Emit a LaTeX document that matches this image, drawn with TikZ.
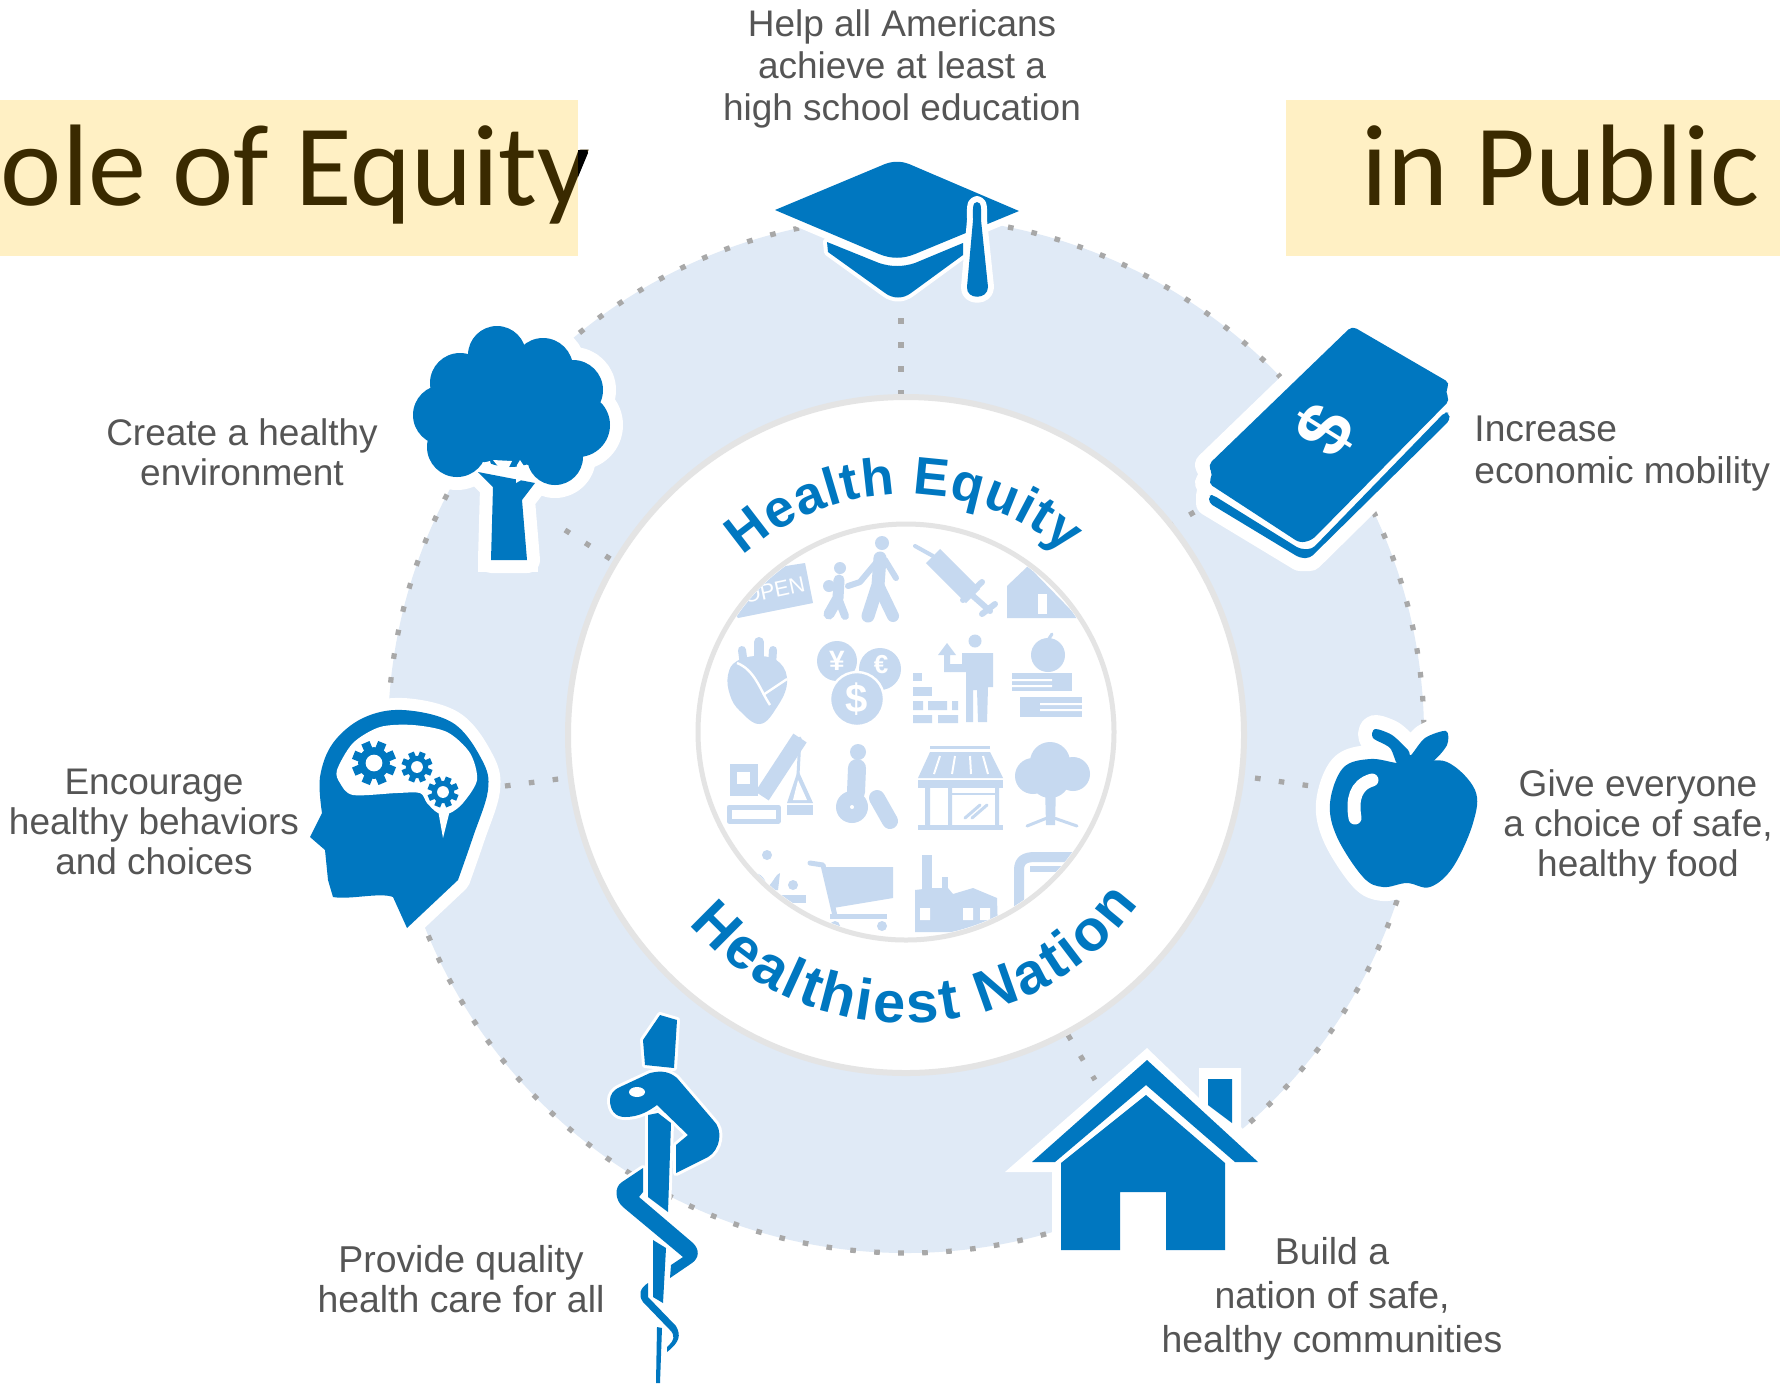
\documentclass[tikz,border=0pt]{standalone}
\usepackage{fontspec}
\setmainfont{Liberation Sans}
\newfontfamily\titlefont{Carlito}
\usetikzlibrary{decorations.text}
\definecolor{iconblue}{HTML}{0077C0}
\definecolor{ringblue}{HTML}{E0EAF6}
\definecolor{pale}{HTML}{C6D9F0}
\definecolor{greyring}{HTML}{E4E4E4}
\definecolor{dotgrey}{HTML}{A8A8A8}
\definecolor{labelgrey}{HTML}{555555}
\definecolor{titlebg}{HTML}{FFF0C4}
\definecolor{titletext}{HTML}{3A2A00}
\tikzset{
  halo/.style={draw=white,fill=white,line width=#1,line join=round},
  halo/.default=13pt,
  ic/.style={fill=iconblue},
  li/.style={fill=pale},
  lis/.style={draw=pale,line width=#1,line cap=round,line join=round},
  lis/.default=3pt,
  wh/.style={fill=white},
  dotline/.style={draw=dotgrey,line width=2.6pt,dash pattern=on 2.8pt off 9.2pt},
  lab/.style={text=labelgrey,font=\fontsize{18.5}{20}\selectfont,align=center,inner sep=0pt},
  ttl/.style={text=titletext,font=\titlefont\fontsize{58}{70}\selectfont,inner sep=0pt,anchor=base west},
}
\newcommand\iconGear[3]{%
  \foreach \a in {0,45,...,315}{\draw[iconblue,line width=#3*0.2pt] (#1,#2) -- ++(\a+22:#3);}
  \fill[iconblue] (#1,#2) circle[radius=#3*0.72];
  \fill[white] (#1,#2) circle[radius=#3*0.38];
}
\def\treecrown{(497,355) circle[radius=29] (543,368) circle[radius=30] (573,390) circle[radius=30] (578,425) circle[radius=32] (555,457) circle[radius=28] (457,447) circle[radius=30] (443,415) circle[radius=30] (460,383) circle[radius=30] (510,410) circle[radius=57] (490,438) circle[radius=25] (530,440) circle[radius=25]}
\def\treetrunk{(491,560) -- (527,560) -- (522,500) -- (535,483) -- (478,472) -- (493,487) -- cycle}
\def\moneyA{(1352,326) -- (1450,383) -- (1445,392) -- (1450,400) -- (1312,540) -- (1300,543) -- (1208,483) -- (1213,475) -- (1208,465) -- cycle}
\def\moneyB{(1449,413) -- (1450,420) -- (1310,558) -- (1300,558) -- (1209,503) -- (1209,495) -- (1213,495) -- (1300,549) -- (1312,549) -- (1445,412) -- cycle}
\def\applebody{plot[smooth cycle,tension=0.6] coordinates {(1413,763) (1447,762) (1475,790) (1473,823) (1453,867) (1430,887) (1407,883) (1383,887) (1363,877) (1337,837) (1330,803) (1343,768) (1370,759) (1397,763)}}
\def\appleleaf{plot[smooth cycle,tension=0.5] coordinates {(1413,768) (1398,765) (1390,748) (1373,738) (1375,729) (1392,735) (1408,750) (1411,755) (1425,738) (1446,731) (1447,745) (1432,762)}}
\def\headpath{(310,837) -- plot[smooth,tension=0.6] coordinates {(322,813) (320,777) (333,743) (363,718) (403,710) (453,723) (482,760) (488,790) (473,837) (458,880)} -- (407,928) -- (393,897) .. controls (380,892) and (350,900) .. (333,897) -- (328,880) -- (325,850) -- cycle}
\def\capboard{(775,210) -- (885,164) .. controls (893,161) and (901,161) .. (909,164) -- (1019,211) -- (915,254) .. controls (903,259) and (891,259) .. (879,254) -- cycle}
\def\capbowl{(827,242) -- (828,252) -- (885,293) .. controls (893,299) and (903,299) .. (911,293) -- (963,255) -- (963,243) -- (915,263) .. controls (903,267) and (891,267) .. (879,263) -- cycle}
\def\captassel{(977,202) .. controls (972,202) and (973,210) .. (973,220) -- (967,287) .. controls (966,300) and (988,300) .. (988,287) -- (981,220) .. controls (981,210) and (982,202) .. (977,202) -- cycle}
\begin{document}
\begin{tikzpicture}[x=0.5pt,y=-0.5pt]
\useasboundingbox (0,0) rectangle (1780,1383);
\clip (0,0) rectangle (1780,1383);
\fill[white] (0,0) rectangle (1780,1383);
% ring
\fill[ringblue] (906,735) circle[radius=518];
\draw[dotline] (906,735) circle[radius=518];
\coordinate (s1a) at (901,318); \coordinate (s1b) at (901,396);
\coordinate (s2a) at (1215,500); \coordinate (s2b) at (1172,525);
\coordinate (s3a) at (1255,778); \coordinate (s3b) at (1311,786);
\coordinate (s4a) at (1068,1035); \coordinate (s4b) at (1095,1080);
\coordinate (s5a) at (505,786); \coordinate (s5b) at (566,778);
\coordinate (s6a) at (565,530); \coordinate (s6b) at (612,560);
\draw[dotline] (s1a) -- (s1b);
\draw[dotline] (s2a) -- (s2b);
\draw[dotline] (s3a) -- (s3b);
\draw[dotline] (s4a) -- (s4b);
\draw[dotline] (s5a) -- (s5b);
\draw[dotline] (s6a) -- (s6b);
% inner disc
\draw[greyring,fill=white,line width=3pt] (906,735) circle[radius=338];
% small icon disc
\begin{scope}
\clip (906,732) circle[radius=205];
% OPEN
\fill[li] (738,618) -- (813,603) -- (805,563) -- (760,570) -- (725,600) -- cycle;
\node[text=white,font=\fontsize{11}{12}\selectfont,rotate=12,inner sep=0pt] (open) at (774,590) {OPEN};
% family
\fill[li] (882,543) circle[radius=7];
\draw[lis=6.5pt] (880,558) -- (878,585) -- (868,616);
\draw[lis=6pt] (878,585) -- (893,616);
\draw[lis=3pt] (880,558) -- (860,582) -- (848,586);
\draw[lis=3pt] (885,560) -- (896,578);
\fill[li] (840,568) circle[radius=6];
\draw[lis=5.5pt] (839,580) -- (838,598) -- (829,614);
\draw[lis=4pt] (838,598) -- (845,616);
\fill[li] (829,586) circle[radius=6];
% syringe
\draw[lis=10pt,line cap=butt] (933,556) -- (973,596);
\draw[lis=2pt] (915,546) -- (933,556);
\draw[lis=3pt] (973,596) -- (990,611);
\draw[lis=3pt] (963,600) -- (982,582);
\draw[lis=3pt] (982,614) -- (995,604);
% house
\fill[li] (1007,618) -- (1007,586) -- (1028,566) -- (1100,640) -- (1100,618) -- cycle;
\fill[wh] (1038,594) rectangle (1047,614);
% heart
\fill[li] plot[smooth cycle,tension=0.7] coordinates {(728,675) (737,661) (760,656) (780,663) (787,683) (777,707) (760,724) (740,711) (730,695)};
\draw[lis=4pt] (742,650) -- (744,665);
\draw[lis=5pt] (759,642) -- (759,660);
\draw[lis=4pt] (773,650) -- (772,665);
\draw[white,line width=1.2pt] (737,663) .. controls (755,670) and (760,690) .. (770,705);
\draw[white,line width=1.2pt] (763,695) -- (787,679);
% coins
\fill[li] (837,661) circle[radius=20];
\fill[li] (880,669) circle[radius=21];
\node[text=white,font=\bfseries\fontsize{14}{15}\selectfont,inner sep=0pt] (yen) at (837,661) {¥};
\node[text=white,font=\bfseries\fontsize{13}{15}\selectfont,inner sep=0pt] (eur) at (881,665) {€};
\draw[white,fill=pale,line width=1.2pt] (857,699) circle[radius=27];
\node[text=white,font=\bfseries\fontsize{20}{22}\selectfont,inner sep=0pt] (usd) at (857,699) {\$};
% builder
\fill[li] (913,715) rectangle (932,723) (938,715) rectangle (958,723);
\fill[li] (913,701) rectangle (923,710) (928,701) rectangle (947,710) (952,701) rectangle (958,710);
\fill[li] (913,687) rectangle (932,696);
\fill[li] (913,673) rectangle (922,681);
\fill[li] (975,641) circle[radius=6.5];
\fill[li] (962,653) -- (993,653) -- (993,687) -- (988,687) -- (987,722) -- (978,722) -- (977,690) -- (973,690) -- (973,722) -- (966,722) -- (966,672) -- (950,672) -- (950,664) -- (962,664) -- cycle;
\fill[li] (947,643) -- (938,655) -- (944,655) -- (944,672) -- (950,672) -- (950,655) -- (956,655) -- cycle;
% books
\fill[li] (1048,655) circle[radius=17];
\draw[lis=1.5pt] (1048,640) -- (1052,634);
\fill[li] (1012,673) rectangle (1072,691);
\fill[li] (1020,697) rectangle (1082,717);
\fill[wh] (1012,679) rectangle (1052,681) (1012,685) rectangle (1052,687);
\fill[wh] (1040,703) rectangle (1082,705) (1040,709) rectangle (1082,711);
% crane
\fill[li] (730,764) rectangle (758,796);
\fill[wh] (737,772) rectangle (750,784);
\draw[lis=2.5pt,fill=none] (729,807) rectangle (778,821);
\draw[lis=8pt,line cap=butt] (762,796) -- (800,738);
\draw[lis=1.5pt] (800,738) -- (798,775);
\fill[li] (798,770) -- (787,803) -- (813,803) -- cycle;
\fill[wh] (798,780) -- (793,800) -- (807,800) -- cycle;
\fill[li] (787,805) rectangle (813,815);
% wheelchair
\fill[li] (858,752) circle[radius=8];
\draw[lis=9pt] (857,768) -- (856,792);
\fill[li] (852,807) circle[radius=16];
\fill[wh] (852,807) circle[radius=2];
\draw[lis=8pt] (877,798) -- (890,821);
% store
\fill[li] (930,746) rectangle (990,749);
\fill[li] (930,752) -- (990,752) -- (1003,778) -- (918,778) -- cycle;
\fill[li] (918,780) rectangle (1003,788);
\draw[white,line width=1pt] (940,756) -- (934,774) (955,756) -- (952,774) (970,756) -- (971,774) (983,756) -- (988,774);
\fill[li] (925,788) rectangle (930,825) (948,788) rectangle (952,825) (995,788) rectangle (999,825);
\fill[li] (918,825) rectangle (1003,830);
\draw[lis=1pt] (952,794) -- (995,794);
\draw[lis=1.5pt] (965,818) -- (980,805) (972,818) -- (987,805);
% tree
\fill[li] (1033,776) circle[radius=18] (1050,762) circle[radius=20] (1073,774) circle[radius=17] (1050,778) circle[radius=20] (1063,772) circle[radius=16];
\fill[li] (1045,786) -- (1056,786) -- (1055,825) -- (1046,825) -- cycle;
\draw[lis=1.5pt] (1027,826) -- (1047,818) (1077,826) -- (1054,818);
% plant
\fill[li] (767,855) circle[radius=5];
\fill[li] (753,873) .. controls (760,872) and (767,880) .. (767,888) .. controls (775,880) and (775,875) .. (780,873) -- (778,890) -- (755,890) -- cycle;
\fill[li] (793,885) circle[radius=5];
\fill[li] (780,895) rectangle (806,903);
% cart
\draw[lis=2.5pt] (810,863) -- (823,865) -- (835,916);
\fill[li] (823,867) -- (893,867) -- (893,898) -- (833,908) -- cycle;
\fill[li] (830,914) rectangle (887,919);
\fill[li] (835,926) circle[radius=5] (882,926) circle[radius=5];
% factory
\fill[li] (922,855) rectangle (932,890);
\fill[li] (942,877) rectangle (948,890);
\fill[li] (915,932) -- (915,890) -- (932,888) -- (948,888) -- (953,894) -- (973,888) -- (997,898) -- (998,932) -- cycle;
\fill[wh] (920,908) rectangle (930,920) (963,908) rectangle (973,920) (980,908) rectangle (990,920);
% bus
\draw[lis=5pt,fill=none] (1019,915) -- (1019,870) .. controls (1019,860) and (1025,857) .. (1035,857) -- (1085,857);
\fill[li] (1030,866) rectangle (1095,872);
\end{scope}
\draw[greyring,line width=2.5pt] (906,732) circle[radius=208];
% curved titles
\path[decorate,decoration={text along path,text align=fit to path,text={|\bfseries\fontsize{26.5}{30}\selectfont\color{iconblue}|Health Equity}}] (906,737) ++(-132:243) arc[start angle=-132,end angle=-49,radius=243];
\path[decorate,decoration={text along path,text align=fit to path,text={|\bfseries\fontsize{29}{32}\selectfont\color{iconblue}|Healthiest Nation}}] (906,735) ++(139:288) arc[start angle=139,end angle=36,radius=288];
% title bars
\fill[titlebg] (0,100) rectangle (578,256);
\fill[titlebg] (1286,100) rectangle (1780,256);
\node[ttl] (t1) at (0.5,205) {ole of Equity};
\fill[black] (578,150) -- (587,150) -- (588,153) -- (578,177) -- cycle;
\node[ttl] (t2) at (1361,205) {in Public};
% cap
\path[halo=7pt] \capboard;
\path[halo=4pt] \capbowl;
\fill[ic] \capboard;
\fill[ic] \capbowl;
\path[halo=6pt] \captassel;
\fill[ic] \captassel;
% money
\path[halo] \moneyA;
\path[halo] \moneyB;
\fill[ic,rounded corners=2.5pt] \moneyA;
\fill[ic,rounded corners=2pt] \moneyB;
\node[text=white,font=\bfseries\fontsize{38}{40}\selectfont,rotate=58,inner sep=0pt] (dollar) at (1325,430) {\$};
% tree
\path[halo] \treecrown;
\path[halo] \treetrunk;
\fill[white] (478,555) rectangle (538,572);
\fill[ic] \treecrown;
\fill[ic] \treetrunk;
\fill[wh] (482,463) -- (490,461) -- (493,472) -- cycle;
\fill[wh] (493,460) -- (512,461) -- (505,475) -- cycle;
\fill[wh] (520,460) -- (530,475) -- (516,483) -- (517,465) -- cycle;
% head
\path[halo=12pt] \headpath;
\fill[ic] \headpath;
\fill[wh] plot[smooth cycle,tension=0.5] coordinates {(337,770) (353,743) (380,727) (413,725) (447,732) (470,753) (477,780) (463,803) (450,813) (438,813) (427,803) (420,793) (397,793) (353,795) (340,783)};
\fill[wh] (438,810) -- (443,838) -- (450,810) -- cycle;
\iconGear{374}{763}{22}
\iconGear{417}{767}{15.5}
\iconGear{443}{792}{15.5}
% apple
\path[halo=14pt] \applebody;
\path[halo=14pt] \appleleaf;
\fill[ic] \applebody;
\fill[ic] \appleleaf;
\draw[white,line width=6.5pt,line cap=round] (1372,780) .. controls (1355,785) and (1352,800) .. (1355,818);
% house
\fill[white] (1147,1048) -- (1005,1172) -- (1052,1172) -- (1052,1256) -- (1232,1256) -- (1232,1172) -- (1280,1172) -- (1241,1127) -- (1241,1068) -- (1199,1068) -- (1199,1098) -- cycle;
\fill[ic] (1147,1060) -- (1258,1162) -- (1235,1162) -- (1146,1085) -- (1055,1162) -- (1032,1162) -- cycle;
\fill[ic] (1146,1095) -- (1225,1163) -- (1225,1250) -- (1166,1250) -- (1166,1192) -- (1120,1192) -- (1120,1250) -- (1061,1250) -- (1061,1163) -- cycle;
\fill[ic] (1208,1079) -- (1232,1079) -- (1232,1123) -- (1208,1105) -- cycle;
% rod of asclepius
\def\rodA{(660,1015) -- (677,1020) -- (674,1068) -- (645,1065) -- (643,1040) -- cycle}
\def\rodB{(648,1115) -- (658,1113) -- (671,1123) -- (668,1212) -- (648,1197) -- cycle}
\def\rodC{(653,1240) -- (666,1248) -- (663,1303) -- (653,1297) -- cycle}
\def\rodD{(657,1327) -- (662,1328) -- (660,1383) -- (656,1383) -- cycle}
\def\snakeA{(610,1100) .. controls (610,1110) and (615,1117) .. (625,1117) .. controls (640,1117) and (650,1110) .. (657,1105) -- (688,1135) -- (676,1145) -- (676,1173) -- (708,1157) .. controls (720,1150) and (724,1130) .. (713,1120) -- (677,1078) .. controls (670,1072) and (662,1070) .. (650,1073) -- (620,1087) .. controls (613,1090) and (610,1095) .. (610,1100) -- cycle}
\def\snakeB{(643,1168) -- (643,1192) -- (639,1197) -- (693,1243) .. controls (700,1250) and (699,1258) .. (692,1263) -- (670,1278) -- (671,1265) -- (683,1257) -- (623,1207) .. controls (615,1200) and (614,1187) .. (622,1182) -- cycle}
\def\snakeC{(648,1283) -- (648,1297) -- (676,1326) .. controls (681,1335) and (680,1342) .. (667,1352) -- (667,1347) .. controls (675,1340) and (675,1335) .. (670,1330) -- (643,1302) .. controls (638,1295) and (640,1288) .. (648,1283) -- cycle}
\path[halo=3pt] \rodA; \path[halo=3pt] \rodB; \path[halo=3pt] \rodC;
\path[halo=3pt] \snakeA; \path[halo=3pt] \snakeB; \path[halo=2pt] \snakeC;
\fill[ic] \rodA; \fill[ic] \rodB; \fill[ic] \rodC; \fill[ic] \rodD;
\fill[ic] \snakeA; \fill[ic] \snakeB; \fill[ic] \snakeC;
\fill[wh] (637,1092) ellipse[x radius=8,y radius=5];
% labels
\node[lab,font=\fontsize{18.5}{21}\selectfont] (l1) at (902,69) {Help all Americans\\achieve at least a\\high school education};
\node[lab] (l2) at (242,452) {Create a healthy\\environment};
\node[lab,anchor=west,align=left,font=\fontsize{18.6}{21}\selectfont] (l3) at (1474,454) {Increase\\economic mobility};
\node[lab] (l4) at (1638,827) {Give everyone\\a choice of safe,\\healthy food};
\node[lab] (l5) at (154,822) {Encourage\\healthy behaviors\\and choices};
\node[lab,font=\fontsize{18.7}{20}\selectfont] (l6) at (461,1279) {Provide quality\\health care for all};
\node[lab,font=\fontsize{18.7}{22}\selectfont] (l7) at (1332,1299) {Build a\\nation of safe,\\healthy communities};
\end{tikzpicture}
\end{document}
